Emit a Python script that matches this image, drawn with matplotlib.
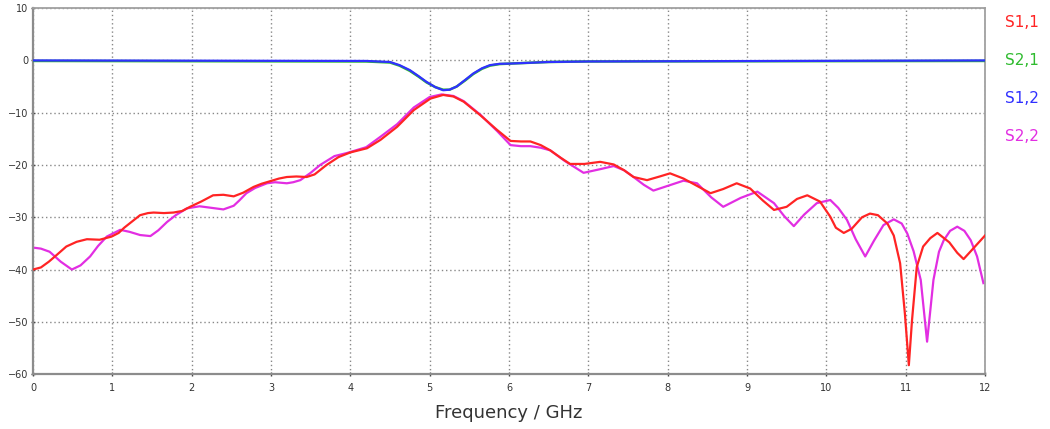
import matplotlib.pyplot as plt
import numpy as np

# S-parameter traces (frequency in GHz, magnitude in dB)
f_s11 = [0.0, 0.1, 0.2, 0.3, 0.42, 0.55, 0.68, 0.84, 0.99, 1.08, 1.15, 1.25,
         1.35, 1.45, 1.52, 1.65, 1.77, 1.88, 1.98, 2.12, 2.27, 2.4, 2.53,
         2.65, 2.78, 2.88, 2.99, 3.1, 3.2, 3.32, 3.45, 3.55, 3.7, 3.85, 4.0,
         4.21, 4.38, 4.59, 4.8, 5.01, 5.17, 5.3, 5.43, 5.64, 5.85, 6.02, 6.15,
         6.27, 6.4, 6.52, 6.65, 6.77, 6.95, 7.15, 7.32, 7.45, 7.57, 7.74, 7.9,
         8.03, 8.2, 8.37, 8.54, 8.7, 8.87, 9.04, 9.2, 9.34, 9.5, 9.63, 9.76,
         9.92, 10.05, 10.12, 10.22, 10.32, 10.45, 10.55, 10.65, 10.77, 10.85,
         10.93, 10.99, 11.04, 11.08, 11.14, 11.22, 11.31, 11.4, 11.55, 11.65,
         11.73, 11.85, 12.0]
s11 = [-40.0, -39.6, -38.5, -37.2, -35.6, -34.7, -34.2, -34.3, -33.7, -33.0,
       -32.0, -30.8, -29.6, -29.2, -29.1, -29.2, -29.1, -28.8, -28.0, -27.0,
       -25.8, -25.7, -26.0, -25.3, -24.2, -23.6, -23.1, -22.6, -22.3, -22.2,
       -22.3, -21.8, -20.0, -18.5, -17.6, -16.8, -15.2, -12.7, -9.5, -7.3,
       -6.6, -6.9, -7.9, -10.5, -13.3, -15.4, -15.5, -15.5, -16.2, -17.2,
       -18.6, -19.8, -19.8, -19.4, -19.9, -21.0, -22.3, -22.9, -22.2, -21.6,
       -22.6, -24.0, -25.4, -24.6, -23.5, -24.5, -26.8, -28.6, -28.0, -26.5,
       -25.8, -27.0, -29.9, -32.0, -33.0, -32.2, -30.0, -29.3, -29.6, -31.2,
       -33.5, -38.8, -48.4, -58.3, -49.7, -39.5, -35.6, -34.0, -33.0, -34.8,
       -36.8, -38.0, -36.0, -33.5]

f_s22 = [0.0, 0.1, 0.21, 0.35, 0.49, 0.6, 0.72, 0.82, 0.93, 1.1, 1.22, 1.35,
         1.48, 1.58, 1.69, 1.8, 1.94, 2.1, 2.25, 2.4, 2.53, 2.6, 2.69, 2.8,
         2.95, 3.05, 3.2, 3.28, 3.37, 3.5, 3.62, 3.8, 3.96, 4.2, 4.38, 4.59,
         4.8, 5.0, 5.15, 5.3, 5.43, 5.64, 5.85, 6.02, 6.15, 6.27, 6.4, 6.52,
         6.7, 6.94, 7.15, 7.32, 7.45, 7.57, 7.7, 7.82, 8.0, 8.2, 8.37, 8.55,
         8.7, 8.92, 9.13, 9.34, 9.47, 9.59, 9.72, 9.88, 10.05, 10.15, 10.26,
         10.37, 10.49, 10.6, 10.72, 10.85, 10.95, 11.02, 11.1, 11.19, 11.27,
         11.35, 11.42, 11.48, 11.56, 11.65, 11.74, 11.82, 11.9, 11.98]
s22 = [-35.8, -36.0, -36.6, -38.5, -40.0, -39.2, -37.5, -35.5, -33.7, -32.4,
       -32.8, -33.4, -33.6, -32.5, -30.9, -29.6, -28.3, -27.9, -28.2, -28.5,
       -27.8, -26.8, -25.4, -24.4, -23.5, -23.3, -23.5, -23.3, -22.9, -21.5,
       -20.0, -18.3, -17.7, -16.6, -14.6, -12.2, -9.0, -7.0, -6.5, -6.8, -7.8,
       -10.4, -13.5, -16.2, -16.4, -16.4, -16.7, -17.2, -19.2, -21.5, -20.8,
       -20.2, -21.0, -22.3, -23.8, -24.9, -24.0, -23.0, -23.5, -26.2, -28.0,
       -26.3, -25.1, -27.3, -29.8, -31.7, -29.5, -27.3, -26.7, -28.2, -30.5,
       -34.2, -37.5, -34.5, -31.5, -30.4, -31.2, -33.1, -36.5, -42.0, -53.8,
       -42.0, -36.6, -34.4, -32.6, -31.8, -32.6, -34.4, -37.5, -42.6]

f_s21 = [0.0, 4.2, 4.5, 4.62, 4.75, 4.86, 4.96, 5.07, 5.17, 5.25, 5.34, 5.45,
         5.55, 5.66, 5.76, 5.88, 6.02, 6.5, 7.0, 12.0]
s21 = [-0.1, -0.2, -0.4, -1.0, -2.0, -3.1, -4.2, -5.1, -5.6, -5.6, -5.0,
       -3.8, -2.6, -1.6, -1.0, -0.7, -0.6, -0.3, -0.2, -0.1]
s12 = [0.0, -0.1, -0.3, -0.9, -1.85, -3.0, -4.1, -5.1, -5.7, -5.6, -5.0,
       -3.7, -2.5, -1.5, -0.9, -0.65, -0.6, -0.3, -0.2, 0.0]

labels = ["S1,1", "S2,1", "S1,2", "S2,2"]
colors = ["#ff2424", "#2fbb2f", "#3030ff", "#e22ee2"]

fig = plt.figure(figsize=(10.5, 4.29), dpi=100)
ax = fig.add_axes([0.0314, 0.128, 0.9067, 0.853])

ax.plot(f_s11, s11, color=colors[0], lw=1.6, zorder=3)
ax.plot(f_s22, s22, color=colors[3], lw=1.6, zorder=2)
ax.plot(f_s21, s21, color=colors[1], lw=1.8, zorder=4)
ax.plot(f_s21, s12, color=colors[2], lw=1.6, zorder=5)

ax.set_xlim(0, 12)
ax.set_ylim(-60, 10)
ax.set_xticks(np.arange(0, 13, 1))
ax.set_yticks(np.arange(-60, 11, 10))

# Dotted grid like the simulator's display
ax.grid(True, color="#888888", lw=1.0, linestyle=(0, (1, 2)))
ax.tick_params(labelsize=7, colors="#444444", length=3, width=1,
               direction="inout", pad=2)
ax.tick_params(axis="x", pad=5)
for lab in ax.get_xticklabels() + ax.get_yticklabels():
    lab.set_color("#333333")

for side in ["left", "bottom"]:
    ax.spines[side].set_color("#8c8c8c")
    ax.spines[side].set_linewidth(1.6)
for side in ["top", "right"]:
    ax.spines[side].set_color("#a0a0a0")
    ax.spines[side].set_linewidth(1.3)

ax.set_xlabel("Frequency / GHz", fontsize=13, color="#333333", labelpad=8)

# Trace names stacked at the right edge
for i, (name, col) in enumerate(zip(labels, colors)):
    fig.text(0.957, 0.948 - i * 0.089, name, color=col, fontsize=11,
             ha="left", va="center")

fig.savefig("out.png", dpi=100)
